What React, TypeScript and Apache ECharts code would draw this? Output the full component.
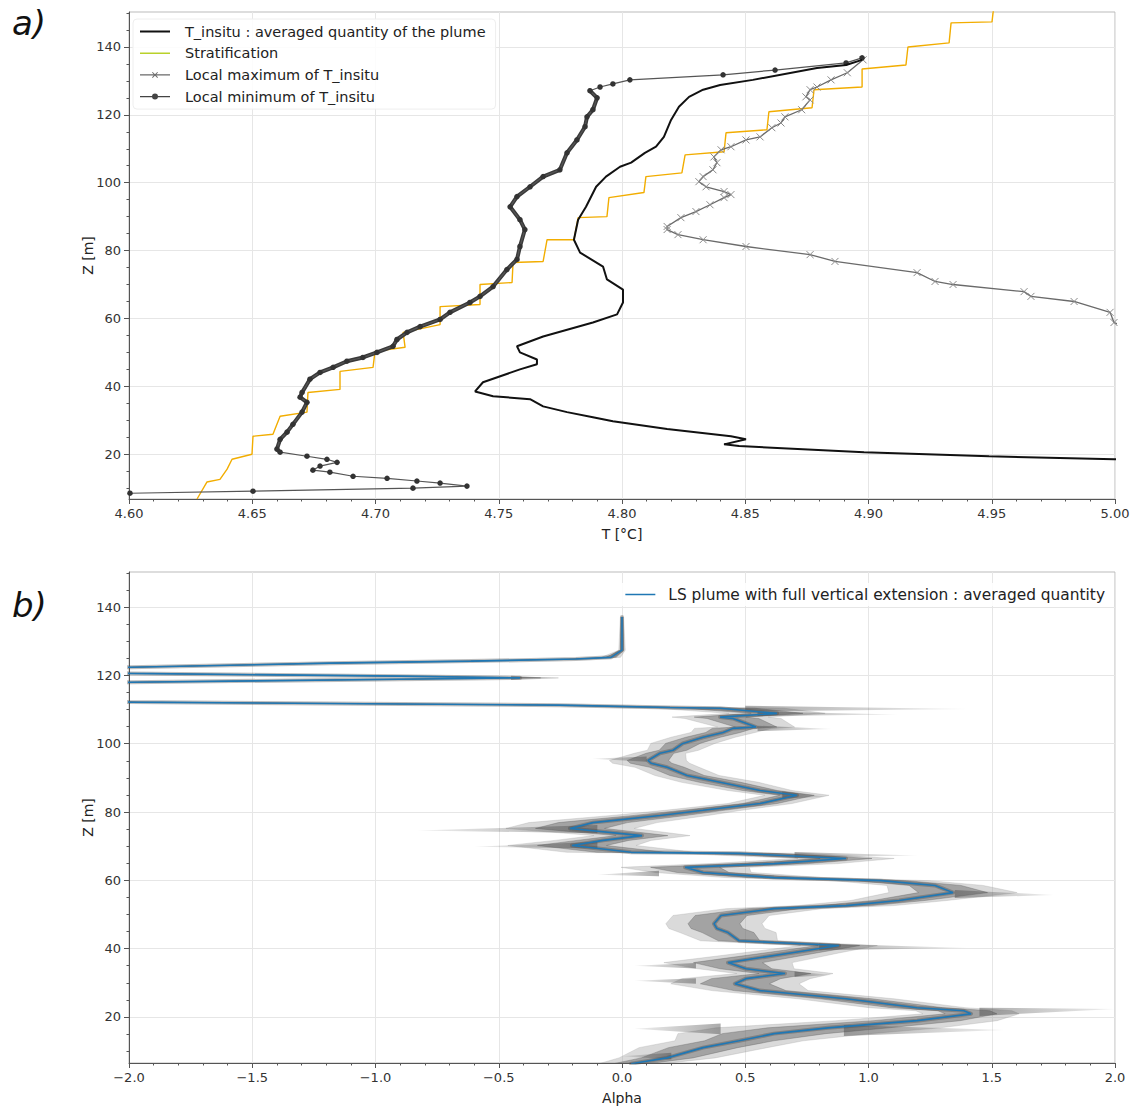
import React, { useEffect, useRef } from "react";
import * as echarts from "echarts";

// ---------- Panel a) data : [T (°C), Z (m)] ----------
const avgT_insitu: number[][] = [
  [4.8974, 136.2], [4.8909, 134.7], [4.8791, 133.8], [4.8531, 130.3], [4.8398, 128.8],
  [4.8329, 127.4], [4.8272, 125.3], [4.8231, 122.4], [4.8199, 118.5], [4.817, 113.5],
  [4.8138, 110.6], [4.8093, 108.8], [4.8037, 105.9], [4.7992, 104.7], [4.7935, 101.8],
  [4.7895, 98.8], [4.7854, 92.9], [4.7822, 89.1], [4.7805, 83.2], [4.783, 79.4],
  [4.7923, 75.3], [4.7939, 71.5], [4.8004, 68.5], [4.8004, 64.7], [4.798, 61.2],
  [4.7882, 58.8], [4.768, 54.7], [4.7574, 51.8], [4.7586, 50.0], [4.7655, 47.9],
  [4.7655, 46.5], [4.7586, 45.0], [4.7436, 41.2], [4.7404, 38.5], [4.7477, 37.1],
  [4.7627, 36.2], [4.768, 34.1], [4.7777, 32.4], [4.7882, 30.9], [4.7963, 29.7],
  [4.8183, 27.4], [4.8442, 25.3], [4.8503, 24.4], [4.8414, 22.9], [4.8475, 22.4],
  [4.8982, 20.6], [4.9489, 19.4], [4.9996, 18.5], [5.0345, 17.6],
];

const stratification: number[][] = [
  [4.6276, 6.8], [4.6316, 11.8], [4.6369, 12.6], [4.6398, 15.6], [4.6418, 18.5],
  [4.6499, 20.0], [4.6503, 25.3], [4.6584, 25.9], [4.6613, 31.2], [4.6722, 32.4],
  [4.6726, 38.2], [4.6856, 39.1], [4.6856, 44.4], [4.699, 45.6], [4.6998, 50.3],
  [4.712, 51.5], [4.7112, 55.9], [4.7262, 58.2], [4.7262, 63.5], [4.7424, 64.1],
  [4.7424, 70.0], [4.7554, 70.6], [4.7558, 76.5], [4.768, 76.8], [4.7696, 83.2],
  [4.7805, 83.2], [4.7822, 89.7], [4.7939, 90.0], [4.7947, 95.6], [4.8089, 97.1],
  [4.8097, 101.8], [4.8243, 102.9], [4.8256, 108.2], [4.8414, 109.1], [4.8422, 114.7],
  [4.8588, 115.6], [4.8596, 120.9], [4.8771, 122.1], [4.8779, 127.4], [4.8974, 128.2],
  [4.8974, 133.5], [4.9152, 134.7], [4.916, 140.0], [4.9327, 141.2], [4.9335, 147.1],
  [4.9501, 147.4], [4.9509, 152.4],
];

const localMax: number[][] = [
  [4.8978, 136.2], [4.8914, 132.4], [4.8848, 130.3], [4.8791, 128.2], [4.8763, 127.4],
  [4.8746, 125.3], [4.8763, 124.4], [4.8729, 121.5], [4.8661, 119.4], [4.8645, 117.6],
  [4.8608, 116.2], [4.856, 113.5], [4.8503, 112.6], [4.8442, 110.6], [4.8402, 109.7],
  [4.8373, 107.6], [4.8385, 105.9], [4.8369, 103.8], [4.8329, 101.8], [4.8312, 100.3],
  [4.8341, 98.8], [4.8414, 97.4], [4.8442, 96.5], [4.8414, 95.6], [4.8357, 93.5],
  [4.83, 91.5], [4.8239, 89.7], [4.8183, 87.1], [4.8183, 86.2], [4.8227, 84.7],
  [4.8329, 83.2], [4.8503, 81.2], [4.8763, 78.8], [4.8864, 76.8], [4.9197, 73.5],
  [4.927, 70.9], [4.9343, 70.0], [4.9631, 67.9], [4.9659, 66.5], [4.9834, 65.0],
  [4.998, 61.8], [4.9996, 58.8], [5.006, 56.8],
];

const localMin: number[][] = [
  [4.8974, 136.8], [4.8909, 135.3], [4.8621, 133.2], [4.841, 131.8], [4.8032, 130.3],
  [4.7963, 129.1], [4.7911, 128.2], [4.787, 127.1], [4.7899, 125.0], [4.7882, 121.5],
  [4.7858, 119.4], [4.785, 116.5], [4.7817, 112.6], [4.7777, 108.8], [4.7748, 103.8],
  [4.768, 101.8], [4.7627, 98.8], [4.7574, 95.9], [4.7546, 92.9], [4.7586, 89.1],
  [4.7606, 86.2], [4.7586, 81.2], [4.7574, 77.4], [4.7533, 74.4], [4.7477, 69.4],
  [4.7424, 66.5], [4.7383, 64.7], [4.7302, 61.8], [4.7262, 59.7], [4.7181, 57.6],
  [4.7128, 55.9], [4.7087, 53.8], [4.7071, 51.8], [4.7006, 50.0], [4.6949, 48.5],
  [4.6884, 47.4], [4.6828, 45.6], [4.6775, 44.1], [4.6734, 42.1], [4.6702, 38.2],
  [4.6694, 36.8], [4.6722, 35.3], [4.6702, 32.4], [4.6665, 28.8], [4.6641, 26.5],
  [4.6613, 24.4], [4.66, 21.5], [4.6613, 20.6], [4.6722, 19.4], [4.6803, 18.5],
  [4.6844, 17.6], [4.6775, 16.5], [4.6746, 15.3], [4.6815, 14.7], [4.6909, 13.5],
  [4.7047, 12.9], [4.7168, 12.1], [4.7262, 11.5], [4.7371, 10.6], [4.7152, 10.0],
  [4.6503, 9.1], [4.6004, 8.5], [4.572, 8.2],
];
// the densely sampled (overlapping markers) part of the local minimum profile
const localMinDense = localMin.slice(7, 48);

// ---------- Panel b) data : [Alpha, Z (m)] ----------
const alphaMean: number[][] = [
  [0.0, 137.1], [0.0, 127.4], [-0.045, 125.3], [-0.187, 124.8], [-0.613, 124.2],
  [-1.185, 123.6], [-1.996, 122.4], [-2.361, 121.8], [-2.361, 121.2], [-1.996, 120.6],
  [-0.901, 119.8], [-0.414, 119.3], [-0.901, 118.9], [-1.996, 118.0], [-2.361, 117.4],
  [-2.361, 113.0], [-1.996, 112.2], [-1.185, 111.8], [-0.252, 111.3], [0.195, 110.6],
  [0.398, 110.4], [0.629, 108.9], [0.398, 107.8], [0.45, 107.4], [0.544, 104.9],
  [0.45, 104.5], [0.41, 103.3], [0.329, 101.9], [0.247, 100.1], [0.207, 98.1],
  [0.154, 97.2], [0.105, 95.1], [0.118, 94.3], [0.183, 93.1], [0.264, 90.7],
  [0.398, 88.7], [0.56, 86.3], [0.71, 84.9], [0.56, 82.5], [0.329, 80.5],
  [0.154, 79.0], [-0.118, 76.9], [-0.211, 75.2], [0.081, 73.1], [-0.077, 71.7],
  [-0.203, 70.2], [0.037, 68.2], [0.475, 67.9], [0.909, 66.4], [0.617, 64.9],
  [0.256, 63.8], [0.329, 62.3], [0.617, 60.8], [1.051, 59.9], [1.27, 58.5],
  [1.343, 56.4], [1.124, 54.1], [0.909, 52.6], [0.617, 51.7], [0.402, 49.7],
  [0.373, 47.3], [0.385, 45.9], [0.43, 44.7], [0.475, 42.3], [0.617, 41.8],
  [0.88, 40.9], [0.69, 38.8], [0.43, 35.9], [0.503, 34.1], [0.661, 32.7],
  [0.503, 31.2], [0.458, 29.7], [0.56, 27.7], [0.909, 25.3], [1.197, 22.7],
  [1.387, 21.8], [1.416, 20.9], [1.197, 18.9], [0.836, 16.8], [0.617, 15.1],
  [0.475, 13.0], [0.329, 11.0], [0.183, 8.0], [0.037, 6.3],
];

// half-width (in alpha) of the grey spread around the mean, one per alphaMean point
const alphaSpread: number[] = [
  0.005, 0.01, 0.03, 0.05, 0.05, 0.05, 0.05, 0.05, 0.05, 0.05,
  0.08, 0.12, 0.08, 0.05, 0.05, 0.05, 0.05, 0.06, 0.08, 0.15,
  0.2, 0.15, 0.15, 0.15, 0.12, 0.12, 0.1, 0.1, 0.1, 0.08,
  0.08, 0.12, 0.12, 0.1, 0.1, 0.12, 0.1, 0.1, 0.1, 0.12,
  0.15, 0.2, 0.2, 0.15, 0.15, 0.2, 0.2, 0.2, 0.15, 0.2,
  0.2, 0.15, 0.15, 0.15, 0.15, 0.2, 0.15, 0.15, 0.15, 0.15,
  0.15, 0.15, 0.15, 0.12, 0.12, 0.12, 0.15, 0.2, 0.15, 0.15,
  0.2, 0.2, 0.15, 0.15, 0.15, 0.15, 0.15, 0.25, 0.35, 0.3,
  0.2, 0.2, 0.15, 0.1,
];

// spread streaks around the mean : [alpha at base, Z at base, alpha at tip, Z at tip, half height]
const spreadStreaks: number[][] = [
  [-0.45, 119.3, -0.25, 119.2, 0.6],
  [0.5, 110.3, 1.4, 110.2, 0.8],
  [0.55, 108.8, 1.12, 108.6, 0.7],
  [0.55, 104.5, 0.85, 104.3, 0.8],
  [0.1, 95.5, -0.12, 95.6, 0.8],
  [0.65, 85.0, 0.83, 84.5, 1.0],
  [-0.1, 75.0, -0.83, 74.6, 1.2],
  [-0.1, 70.3, -0.6, 69.8, 1.0],
  [0.7, 67.5, 1.2, 67.3, 0.8],
  [0.15, 62.0, -0.1, 61.6, 0.8],
  [1.35, 56.0, 1.75, 55.7, 1.2],
  [0.8, 40.5, 1.4, 40.2, 1.0],
  [0.3, 35.0, 0.05, 35.0, 0.8],
  [0.7, 32.5, 0.85, 32.3, 0.8],
  [0.3, 30.5, 0.05, 30.6, 0.8],
  [1.45, 21.5, 2.0, 22.3, 1.2],
  [0.9, 16.0, 1.55, 16.2, 1.6],
  [0.4, 16.5, 0.05, 16.5, 1.6],
  [0.2, 8.5, 0.0, 8.5, 1.0],
];

// ---------- ticks ----------
const zMajorTicks = [20, 40, 60, 80, 100, 120, 140];
const zMinorTicks = [10, 15, 25, 30, 35, 45, 50, 55, 65, 70, 75, 85, 90, 95, 105, 110, 115, 125, 130, 135, 145, 150];

const NAME_AVG = "T_insitu : averaged quantity of the plume";
const NAME_STRAT = "Stratification";
const NAME_MAX = "Local maximum of T_insitu";
const NAME_MIN = "Local minimum of T_insitu";
const NAME_LS = "LS plume with full vertical extension : averaged quantity";

const FONT = "DejaVu Sans";
const AXIS_COLOR = "#555";
const GRID_LINE = "#e6e6e6";

// legend icons (40 x 8 box: 30 px handle + blank gap before the text)
const BOX = "M39.98,0L40,0L40,0.02Z M39.98,8L40,8L40,7.98Z";
const ICON_AVG = "path://M0,3h30v2h-30z " + BOX;
const ICON_STRAT = "path://M0,3.3h30v1.4h-30z " + BOX;
const ICON_MAX =
  "path://M0,3.4h30v1.2h-30z M12,1.7L12.7,1L18,6.3L17.3,7Z M17.3,1L18,1.7L12.7,7L12,6.3Z " + BOX;
const ICON_MIN = "path://M0,3.4h30v1.2h-30z M18,4A3,3 0 1 1 12,4A3,3 0 1 1 18,4Z " + BOX;
const ICON_LS = "path://M0,3.2h30v1.6h-30z M37.98,0L38,0L38,0.02Z M37.98,8L38,8L38,7.98Z";

function zAxes(gridIndex: number, min: number, max: number) {
  return [
    {
      type: "value",
      gridIndex,
      min,
      max,
      splitNumber: 7,
      name: "Z [m]",
      nameLocation: "middle",
      nameGap: 34,
      nameMoveOverlap: false,
      nameTextStyle: { fontFamily: FONT, fontSize: 14, color: "#222" },
      axisLine: { show: true, onZero: false, lineStyle: { color: AXIS_COLOR } },
      axisTick: { show: true, customValues: zMajorTicks, length: 5, lineStyle: { color: AXIS_COLOR } },
      axisLabel: { customValues: zMajorTicks, fontFamily: FONT, fontSize: 13, color: "#333", margin: 8 },
      splitLine: { show: true, lineStyle: { color: GRID_LINE, width: 1 } },
    },
    {
      type: "value",
      gridIndex,
      min,
      max,
      position: "left",
      offset: 0,
      axisLine: { show: false, onZero: false },
      axisTick: { show: true, customValues: zMinorTicks, length: 2.5, lineStyle: { color: AXIS_COLOR } },
      axisLabel: { show: false },
      splitLine: { show: false },
    },
  ];
}

function bandPolygon(api: any, factor: number) {
  const left: number[][] = [];
  const right: number[][] = [];
  for (let i = 0; i < alphaMean.length; i++) {
    const [a, z] = alphaMean[i];
    const d = alphaSpread[i] * factor;
    left.push(api.coord([a - d, z]));
    right.push(api.coord([a + d, z]));
  }
  return left.concat(right.reverse());
}

export default function App() {
  const ref = useRef<HTMLDivElement>(null);

  useEffect(() => {
    if (!ref.current) return;
    const chart = echarts.init(ref.current, undefined, { renderer: "svg" });

    const option: any = {
      animation: false,
      backgroundColor: "#ffffff",
      grid: [
        { left: 129, top: 12, width: 986, height: 487, show: true, borderColor: "#bbbbbb", borderWidth: 1 },
        { left: 129, top: 572, width: 986, height: 491, show: true, borderColor: "#bbbbbb", borderWidth: 1 },
      ],
      xAxis: [
        {
          type: "value",
          gridIndex: 0,
          min: 4.6,
          max: 5.0,
          interval: 0.05,
          name: "T [°C]",
          nameLocation: "middle",
          nameGap: 28,
          nameTextStyle: { fontFamily: FONT, fontSize: 14, color: "#222" },
          axisLine: { show: true, onZero: false, lineStyle: { color: AXIS_COLOR } },
          axisTick: { show: true, length: 5, lineStyle: { color: AXIS_COLOR } },
          minorTick: { show: true, splitNumber: 5, length: 2.5, lineStyle: { color: AXIS_COLOR } },
          axisLabel: {
            fontFamily: FONT,
            fontSize: 13,
            color: "#333",
            margin: 8,
            formatter: (v: number) => v.toFixed(2),
          },
          splitLine: { show: true, lineStyle: { color: GRID_LINE, width: 1 } },
        },
        {
          type: "value",
          gridIndex: 1,
          min: -2,
          max: 2,
          interval: 0.5,
          name: "Alpha",
          nameLocation: "middle",
          nameGap: 28,
          nameTextStyle: { fontFamily: FONT, fontSize: 14, color: "#222" },
          axisLine: { show: true, onZero: false, lineStyle: { color: AXIS_COLOR } },
          axisTick: { show: true, length: 5, lineStyle: { color: AXIS_COLOR } },
          minorTick: { show: true, splitNumber: 5, length: 2.5, lineStyle: { color: AXIS_COLOR } },
          axisLabel: {
            fontFamily: FONT,
            fontSize: 13,
            color: "#333",
            margin: 8,
            formatter: (v: number) => (v < 0 ? "\u2212" + Math.abs(v).toFixed(1) : v.toFixed(1)),
          },
          splitLine: { show: true, lineStyle: { color: GRID_LINE, width: 1 } },
        },
      ],
      yAxis: [...zAxes(0, 6.8, 150.3), ...zAxes(1, 6.5, 150.3)],
      legend: [
        {
          data: [
            { name: NAME_AVG, icon: ICON_AVG, itemStyle: { color: "#111", borderWidth: 0 } },
            { name: NAME_STRAT, icon: ICON_STRAT, itemStyle: { color: "#b9d12a", borderWidth: 0 } },
            { name: NAME_MAX, icon: ICON_MAX, itemStyle: { color: "#6a6a6a", borderWidth: 0 } },
            { name: NAME_MIN, icon: ICON_MIN, itemStyle: { color: "#444", borderWidth: 0 } },
          ],
          orient: "vertical",
          left: 133,
          top: 19,
          padding: [5, 10, 5, 7],
          itemGap: 6.7,
          itemWidth: 40,
          itemHeight: 8,
          backgroundColor: "rgba(255,255,255,0.85)",
          borderColor: "#eeeeee",
          borderWidth: 1,
          borderRadius: 4,
          textStyle: { fontFamily: FONT, fontSize: 14.5, color: "#222" },
        },
        {
          data: [{ name: NAME_LS, icon: ICON_LS, itemStyle: { color: "#1f77b4", borderWidth: 0 } }],
          orient: "vertical",
          right: 26,
          top: 583,
          padding: [4, 6, 4, 6],
          itemWidth: 38,
          itemHeight: 8,
          backgroundColor: "rgba(255,255,255,0.85)",
          textStyle: { fontFamily: FONT, fontSize: 15.4, color: "#222" },
        },
      ],
      graphic: [
        { type: "text", left: 12, top: 6, style: { text: "a)", font: "italic 34px 'DejaVu Sans'", fill: "#111" } },
        { type: "text", left: 12, top: 588, style: { text: "b)", font: "italic 34px 'DejaVu Sans'", fill: "#111" } },
      ],
      series: [
        // ----- panel a -----
        {
          name: NAME_STRAT,
          type: "line",
          xAxisIndex: 0,
          yAxisIndex: 0,
          data: stratification,
          symbol: "none",
          color: "#f2ad00",
          lineStyle: { color: "#f2ad00", width: 1.4 },
          z: 2,
        },
        {
          name: NAME_MAX,
          type: "line",
          xAxisIndex: 0,
          yAxisIndex: 0,
          data: localMax,
          symbol: "path://M0,0L10,10M10,0L0,10",
          symbolSize: 7,
          itemStyle: { color: "rgba(0,0,0,0)", borderColor: "#8a8a8a", borderWidth: 1 },
          lineStyle: { color: "#6a6a6a", width: 1.3 },
          z: 3,
        },
        {
          name: "local-min-dense",
          type: "line",
          xAxisIndex: 0,
          yAxisIndex: 0,
          data: localMinDense,
          symbol: "none",
          silent: true,
          lineStyle: { color: "#3a3a3a", width: 4, join: "round", cap: "round" },
          z: 4,
        },
        {
          name: NAME_MIN,
          type: "line",
          xAxisIndex: 0,
          yAxisIndex: 0,
          data: localMin,
          symbol: "circle",
          symbolSize: 5.5,
          itemStyle: { color: "#333" },
          lineStyle: { color: "#555", width: 1.2 },
          z: 4,
        },
        {
          name: NAME_AVG,
          type: "line",
          xAxisIndex: 0,
          yAxisIndex: 0,
          data: avgT_insitu,
          symbol: "none",
          color: "#111",
          lineStyle: { color: "#111", width: 2 },
          z: 5,
        },
        // ----- panel b -----
        {
          name: "spread-band",
          type: "custom",
          xAxisIndex: 1,
          yAxisIndex: 2,
          clip: true,
          silent: true,
          data: [[0, 0], [0, 0]],
          renderItem: (params: any, api: any) => {
            const outer = params.dataIndex === 0;
            return {
              type: "polygon",
              shape: { points: bandPolygon(api, outer ? 1.3 : 0.7) },
              style: {
                fill: outer ? "rgba(150,150,150,0.35)" : "rgba(95,95,95,0.45)",
                stroke: outer ? "rgba(150,150,150,0.25)" : "rgba(95,95,95,0.35)",
                lineWidth: 1,
              },
            };
          },
          z: 2,
        },
        {
          name: "spread-streaks",
          type: "custom",
          xAxisIndex: 1,
          yAxisIndex: 2,
          clip: true,
          silent: true,
          data: spreadStreaks,
          renderItem: (params: any, api: any) => {
            const xb = api.value(0);
            const zb = api.value(1);
            const xt = api.value(2);
            const zt = api.value(3);
            const h = api.value(4);
            const p1 = api.coord([xb, zb + h]);
            const p2 = api.coord([xt, zt]);
            const p3 = api.coord([xb, zb - h]);
            return {
              type: "polygon",
              shape: { points: [p1, p2, p3] },
              style: {
                fill: new echarts.graphic.LinearGradient(
                  p1[0], 0, p2[0], 0,
                  [
                    { offset: 0, color: "rgba(70,70,70,0.45)" },
                    { offset: 1, color: "rgba(70,70,70,0.08)" },
                  ],
                  true
                ),
              },
            };
          },
          z: 3,
        },
        {
          name: "spread-halo",
          type: "line",
          xAxisIndex: 1,
          yAxisIndex: 2,
          data: alphaMean,
          symbol: "none",
          silent: true,
          lineStyle: { color: "rgba(70,70,70,0.35)", width: 4, join: "round", cap: "round" },
          z: 4,
        },
        {
          name: NAME_LS,
          type: "line",
          xAxisIndex: 1,
          yAxisIndex: 2,
          data: alphaMean,
          symbol: "none",
          color: "#1f77b4",
          lineStyle: { color: "#1f77b4", width: 1.6 },
          z: 5,
        },
      ],
    };

    chart.setOption(option);
    return () => chart.dispose();
  }, []);

  return (
    <div
      ref={ref}
      style={{ position: "absolute", left: 0, top: 0, width: 1137, height: 1108, background: "#fff" }}
    />
  );
}
